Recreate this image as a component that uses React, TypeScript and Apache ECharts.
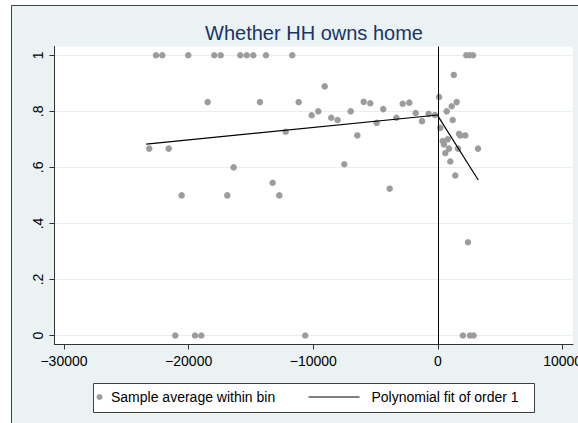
import React, { useEffect, useRef } from "react";
import * as echarts from "echarts";

// ---- data ----
const titleText = "Whether HH owns home";
const seriesNames = ["Sample average within bin", "Polynomial fit of order 1"];

const binX = [
  -22620, -22115, -20030, -17945, -17430, -15860, -15345, -14815, -13796, -11687,
  2270, 2540, 2810,
  -18475, -14280, -11175,
  -12220, -23160, -21600, -16390, -13260, -20560, -16900, -12730,
  -21070, -19490, -18985, -10645, 2000, 2570, 2860,
  -9090, -10130, -9600, -8560, -8050, -7000, -6470, -5960, -5430, -4920,
  -4390, -3340, -2830, -2300, -1790, -1280, -750, -240, -7515, -3875,
  90, 185, 700, 1100, 1500, 1270, 1180, 1685, 1790, 2190,
  375, 480, 780, 880, 590, 1605, 3210, 990, 1390, 2405,
];
const binY = [
  1, 1, 1, 1, 1, 1, 1, 1, 1, 1,
  1, 1, 1,
  0.833, 0.833, 0.833,
  0.727, 0.667, 0.667, 0.6, 0.545, 0.5, 0.5, 0.5,
  0, 0, 0, 0, 0, 0, 0,
  0.889, 0.786, 0.8, 0.777, 0.769, 0.8, 0.714, 0.834, 0.829, 0.759,
  0.808, 0.777, 0.827, 0.831, 0.794, 0.765, 0.791, 0.787, 0.611, 0.524,
  0.851, 0.741, 0.8, 0.818, 0.833, 0.93, 0.769, 0.72, 0.714, 0.714,
  0.694, 0.682, 0.7, 0.667, 0.651, 0.667, 0.667, 0.621, 0.571, 0.333,
];
const fitLeftX = [-23400, 0];
const fitLeftY = [0.683, 0.787];
const fitRightX = [0, 3230];
const fitRightY = [0.783, 0.555];
const xTicks = [-30000, -20000, -10000, 0, 10000];
const yTicks = [0, 0.2, 0.4, 0.6, 0.8, 1];
const cutoff = 0;

const FONT = "'Liberation Sans', Arial, Helvetica, sans-serif";

export default function App() {
  const ref = useRef<HTMLDivElement>(null);
  useEffect(() => {
    if (!ref.current) return;
    const chart = echarts.init(ref.current, undefined, { renderer: "svg" });
    const fmtX = (v: number) => (v < 0 ? "\u2212" + Math.abs(v) : String(v));
    const fmtY = (v: number) => {
      const r = Math.round(v * 10) / 10;
      if (r === 0) return "0";
      if (r === 1) return "1";
      return r.toFixed(1).replace(/^0/, "");
    };
    chart.setOption({
      animation: false,
      backgroundColor: "#eaf2f3",
      title: {
        text: titleText,
        left: "center",
        top: 18,
        textStyle: { color: "#1a3466", fontSize: 20, fontWeight: "normal", fontFamily: FONT },
      },
      grid: {
        left: 54.5,
        right: 55,
        top: 46.5,
        bottom: 95.5,
        show: true,
        backgroundColor: "#ffffff",
        borderWidth: 0,
      },
      xAxis: {
        type: "value",
        min: -30760,
        max: 10830,
        axisLine: { show: true, onZero: false, lineStyle: { color: "#333", width: 1 } },
        axisTick: { show: true, length: 5, customValues: xTicks, lineStyle: { color: "#333" } },
        axisLabel: {
          customValues: xTicks,
          formatter: fmtX,
          color: "#000",
          fontSize: 14,
          fontFamily: FONT,
          margin: 9,
        },
        splitLine: { show: false },
      },
      yAxis: {
        type: "value",
        min: -0.0321,
        max: 1.0314,
        axisLine: { show: true, onZero: false, lineStyle: { color: "#333", width: 1 } },
        axisTick: { show: true, length: 5, customValues: yTicks, lineStyle: { color: "#333" } },
        axisLabel: {
          customValues: yTicks,
          formatter: fmtY,
          rotate: 90,
          color: "#000",
          fontSize: 14,
          fontFamily: FONT,
          margin: 10,
        },
        splitLine: { show: true, lineStyle: { color: "#e6eef0", width: 1 } },
      },
      legend: [
        {
          data: [seriesNames[0]],
          left: 96.5,
          top: 390,
          padding: 0,
          itemWidth: 9,
          itemHeight: 6,
          textStyle: { color: "#000", fontSize: 14, fontFamily: FONT, padding: [0, 0, 0, 2] },
        },
        {
          data: [seriesNames[1]],
          left: 308,
          top: 390,
          padding: 0,
          itemWidth: 51,
          itemHeight: 14,
          itemStyle: { opacity: 0, borderWidth: 0 },
          lineStyle: { color: "#000", width: 1 },
          textStyle: { color: "#000", fontSize: 14, fontFamily: FONT, padding: [0, 0, 0, 7] },
        },
      ],
      graphic: [
        { type: "rect", shape: { x: 0, y: 0, width: 11, height: 440 }, style: { fill: "#fff" }, silent: true },
        { type: "rect", shape: { x: 0, y: 0, width: 628, height: 5 }, style: { fill: "#fff" }, silent: true },
        { type: "line", shape: { x1: 11.5, y1: 5.5, x2: 11.5, y2: 440 }, style: { stroke: "#444", lineWidth: 1 }, silent: true },
        { type: "line", shape: { x1: 11.5, y1: 5.5, x2: 628, y2: 5.5 }, style: { stroke: "#444", lineWidth: 1 }, silent: true },
        {
          type: "rect",
          shape: { x: 93.5, y: 383.5, width: 441, height: 29 },
          style: { fill: "#fff", stroke: "#404040", lineWidth: 1 },
          silent: true,
        },
      ],
      series: [
        {
          name: seriesNames[0],
          type: "scatter",
          data: binX.map((x, i) => [x, binY[i]]),
          symbol: "circle",
          symbolSize: 6.5,
          itemStyle: { color: "#9c9c9c", opacity: 1 },
          z: 3,
        },
        {
          name: seriesNames[1],
          type: "line",
          data: fitLeftX.map((x, i) => [x, fitLeftY[i]]),
          symbol: "none",
          showSymbol: false,
          color: "#000",
          lineStyle: { color: "#000", width: 1.2 },
          z: 4,
          markLine: {
            silent: true,
            symbol: ["none", "none"],
            label: { show: false },
            lineStyle: { color: "#000", width: 1, type: "solid" },
            data: [{ xAxis: cutoff }],
          },
        },
        {
          name: seriesNames[1],
          type: "line",
          data: fitRightX.map((x, i) => [x, fitRightY[i]]),
          symbol: "none",
          showSymbol: false,
          color: "#000",
          lineStyle: { color: "#000", width: 1.2 },
          z: 4,
        },
      ],
    });
    return () => chart.dispose();
  }, []);
  return (
    <div
      style={{
        position: "fixed",
        left: 0,
        top: 0,
        width: 578,
        height: 423,
        overflow: "hidden",
        background: "#fff",
      }}
    >
      <div ref={ref} style={{ width: 628, height: 440 }} />
    </div>
  );
}
